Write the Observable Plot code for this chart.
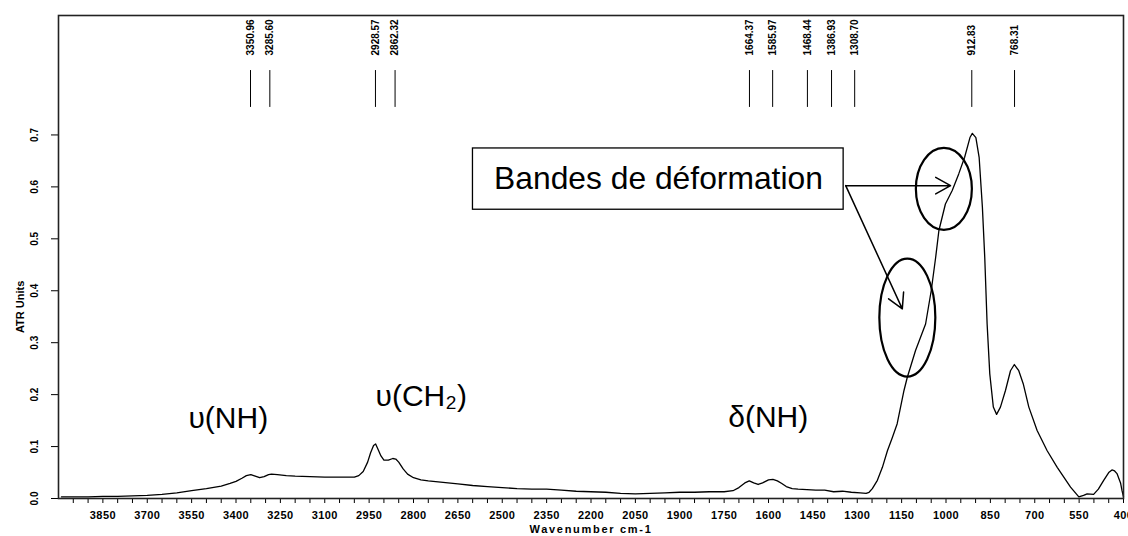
<!DOCTYPE html>
<html><head><meta charset="utf-8">
<script src="https://cdn.jsdelivr.net/npm/d3@7"></script>
<script src="https://cdn.jsdelivr.net/npm/@observablehq/plot@0.6"></script>
<style>
html,body{margin:0;padding:0;overflow:hidden;background:#fff}
g[aria-label="x-axis tick label"] text{letter-spacing:0.4px}
</style>
</head><body><div id="chart"></div>
<script>
// ATR spectrum (wavenumber in cm-1, absorbance in ATR units)
const wavenumbers = [3990,3950,3900,3850,3800,3750,3700,3650,3600,3550,3500,3450,3420,3400,3380,3365,3350,3335,3320,3305,3290,3280,3260,3230,3200,3150,3100,3050,3000,2985,2970,2955,2945,2935,2928,2920,2910,2900,2885,2870,2860,2850,2835,2820,2800,2775,2750,2700,2650,2600,2550,2500,2450,2400,2350,2300,2250,2200,2150,2100,2050,2000,1950,1900,1850,1800,1750,1720,1700,1680,1665,1650,1635,1620,1600,1585,1570,1555,1540,1520,1500,1470,1440,1410,1380,1350,1320,1290,1270,1260,1249,1232,1215,1198,1181,1165,1142,1131,1103,1069,1050,1035,1024,1002,979,957,937,919,911,899,888,877,869,861,852,840,829,816,799,782,769,754,739,720,692,658,624,579,551,535,523,501,485,467,450,439,430,422,410,405,400];
const absorbance = [0.003,0.003,0.003,0.004,0.004,0.005,0.006,0.008,0.011,0.015,0.019,0.024,0.029,0.033,0.039,0.044,0.046,0.043,0.040,0.042,0.046,0.047,0.046,0.044,0.043,0.042,0.041,0.041,0.041,0.044,0.052,0.070,0.088,0.102,0.105,0.095,0.082,0.074,0.074,0.077,0.076,0.070,0.057,0.047,0.040,0.036,0.034,0.031,0.028,0.025,0.023,0.021,0.019,0.018,0.018,0.016,0.014,0.013,0.012,0.010,0.009,0.010,0.011,0.012,0.012,0.013,0.013,0.015,0.021,0.030,0.034,0.030,0.027,0.030,0.036,0.037,0.034,0.029,0.023,0.019,0.018,0.017,0.016,0.016,0.013,0.014,0.012,0.011,0.010,0.012,0.019,0.035,0.060,0.092,0.118,0.144,0.208,0.233,0.285,0.336,0.400,0.464,0.516,0.567,0.593,0.625,0.657,0.695,0.703,0.695,0.657,0.561,0.464,0.336,0.240,0.176,0.162,0.176,0.208,0.246,0.258,0.246,0.221,0.176,0.131,0.092,0.060,0.022,0.003,0.006,0.009,0.008,0.018,0.035,0.050,0.055,0.053,0.048,0.030,0.015,0.003];

// Peak picks shown at the top
const peakPositions = [3350.96, 3285.60, 2928.57, 2862.32, 1664.37, 1585.97, 1468.44, 1386.93, 1308.70, 912.83, 768.31];
const peakLabels = ["3350.96", "3285.60", "2928.57", "2862.32", "1664.37", "1585.97", "1468.44", "1386.93", "1308.70", "912.83", "768.31"];
const peakTickSpan = [0.753, 0.824];
const peakLabelBase = 0.853;

// Axis ticks and titles
const xTickLabels = [3850, 3700, 3550, 3400, 3250, 3100, 2950, 2800, 2650, 2500, 2350, 2200, 2050, 1900, 1750, 1600, 1450, 1300, 1150, 1000, 850, 700, 550, 400];
const xMinorTicks = d3.range(3950, 399, -50);
const yTicks = [0, 0.1, 0.2, 0.3, 0.4, 0.5, 0.6, 0.7];
const xTitle = "Wavenumber cm-1";
const yTitle = "ATR Units";
const yTitleAt = [4128, 0.369];

// Band annotations
const bandLabels = ["υ(NH)", "υ(CH₂)", "δ(NH)"];
const bandX = [3426, 2774, 1601];
const bandY = [0.135, 0.179, 0.137];

const boxLabel = "Bandes de déformation";
const boxX = [2599, 1346];
const boxY = [0.556, 0.674];
const boxTextAt = [1972, 0.596];
const arrowFrom = [1339, 0.6024];
const arrowTo = [[984.6, 0.6024], [1147.7, 0.3651]];
const ellipseCenters = [[1005.5, 0.5953], [1129, 0.3474]];
const ellipseRadii = [[28, 41], [28, 59]];

const labelSet = new Set(xTickLabels);
const font = "'Liberation Sans', Arial, sans-serif";

const chart = Plot.plot({
  width: 1128,
  height: 536,
  marginTop: 15,
  marginBottom: 38,
  marginLeft: 58,
  marginRight: 5,
  style: {fontFamily: font, fontSize: "10.5px", fontWeight: "bold", background: "white", color: "black"},
  x: {domain: [4000, 400]},
  y: {domain: [0, 0.93]},
  marks: [
    Plot.axisX(xMinorTicks, {tickSize: 5, tickPadding: 8, tickFormat: d => labelSet.has(d) ? String(d) : "", label: null, fontWeight: "bold", fontSize: 11}),
    Plot.axisY(yTicks, {tickSize: 7, tickRotate: -90, tickPadding: 14, tickFormat: d => d.toFixed(1), label: null, fontWeight: "bold", fontSize: 10}),
    Plot.text([yTitle], {x: yTitleAt[0], y: yTitleAt[1], text: d => d, rotate: -90, fontSize: 11, fontWeight: "bold"}),
    Plot.text([xTitle], {text: d => d, frameAnchor: "bottom", dy: 34, fontSize: 11, fontWeight: "bold"}),
    Plot.lineY(absorbance, {x: wavenumbers, y: absorbance, stroke: "black", strokeWidth: 1.3}),
    Plot.ruleX(peakPositions, {x: d => d, y1: peakTickSpan[0], y2: peakTickSpan[1], stroke: "black", strokeWidth: 1}),
    Plot.text(peakPositions, {x: d => d, y: peakLabelBase, text: (d, i) => peakLabels[i], rotate: -90, textAnchor: "start", lineAnchor: "middle", fontSize: 10, fontWeight: "bold"}),
    Plot.text(bandLabels, {x: (d, i) => bandX[i], y: (d, i) => bandY[i], text: d => d, lineAnchor: "bottom", fontSize: 30, fontWeight: "normal"}),
    Plot.rect([boxLabel], {x1: boxX[0], x2: boxX[1], y1: boxY[0], y2: boxY[1], fill: "white", stroke: "black", strokeWidth: 1.3}),
    Plot.text([boxLabel], {x: boxTextAt[0], y: boxTextAt[1], text: d => d, lineAnchor: "bottom", fontSize: 31.8, fontWeight: "normal"}),
    Plot.arrow(arrowTo, {x1: arrowFrom[0], y1: arrowFrom[1], x2: d => d[0], y2: d => d[1], stroke: "black", strokeWidth: 1.5, headLength: 17, headAngle: 58}),
    (index, scales) => {
      const g = d3.create("svg:g").attr("fill", "none").attr("stroke", "black").attr("stroke-width", 2.2);
      ellipseCenters.forEach((c, i) => {
        g.append("ellipse")
          .attr("cx", scales.x(c[0]))
          .attr("cy", scales.y(c[1]))
          .attr("rx", ellipseRadii[i][0])
          .attr("ry", ellipseRadii[i][1]);
      });
      return g.node();
    },
    Plot.frame({stroke: "#222", strokeWidth: 1.6})
  ]
});
d3.select(chart).selectAll("text").filter(function () { return this.textContent === xTitle; }).style("letter-spacing", "1.7px");
document.getElementById("chart").appendChild(chart);
</script>
</body></html>
